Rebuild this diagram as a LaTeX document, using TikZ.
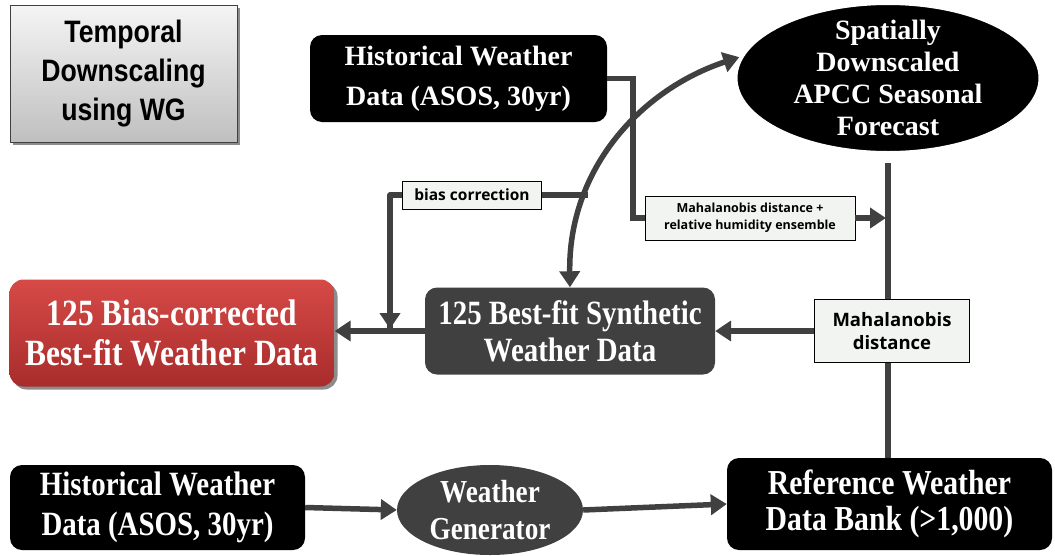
\documentclass[tikz,border=0pt]{standalone}
\usepackage{fontspec}
\setmainfont{Liberation Serif}
\newfontfamily\arialf[FakeStretch=0.86]{Liberation Sans}
\newfontfamily\condf[FakeStretch=0.85]{Liberation Serif}
\newfontfamily\labf{Open Sans}
\usetikzlibrary{arrows.meta,shapes.geometric,shadows,calc}
\definecolor{lg}{HTML}{404040}
\definecolor{labfill}{HTML}{F2F4F2}
\definecolor{redtop}{HTML}{D64A47}
\definecolor{redbot}{HTML}{A82C2B}
\begin{document}
\begin{tikzpicture}[x=1pt,y=-1pt,
  conn/.style={draw=lg,line width=5.5pt},
  arr/.style={conn,-{Triangle[length=16pt,width=20pt]}},
  boxtext/.style={text=white,align=center,inner sep=0pt,
    font=\fontsize{28}{40}\selectfont\bfseries},
  blk/.style={boxtext,fill=black,rounded corners=12pt},
  lab/.style={draw=black,line width=0.8pt,fill=labfill,align=center,inner sep=0pt},
  shad/.style={drop shadow={shadow xshift=3pt,shadow yshift=-3pt,opacity=0.45,fill=black}}
]
\useasboundingbox (0,0) rectangle (1055,555);

% title box
\node[shad,draw=lg,line width=0.8pt,top color=white!96!black,bottom color=black!25,
  minimum width=227pt,minimum height=137pt,align=center,inner sep=0pt,
  font=\arialf\bfseries\fontsize{31}{39}\selectfont] (title) at (123.5,73.5)
  {Temporal\\Downscaling\\using WG};

% top historical
\node[blk,minimum width=297pt,minimum height=87pt] (hist1) at (458.5,78.5)
  {Historical Weather\\Data (ASOS, 30yr)};

% ellipse forecast
\node[boxtext,ellipse,fill=black,draw=white,line width=4pt,
  minimum width=305pt,minimum height=150pt,inner ysep=-12pt,
  font=\fontsize{28}{32}\selectfont\bfseries] (fc) at (888,78)
  {Spatially\\Downscaled\\APCC Seasonal\\Forecast};

% synthetic
\node[boxtext,fill=lg,rounded corners=12pt,minimum width=290pt,minimum height=87pt,
  font=\condf\bfseries\fontsize{34}{37}\selectfont] (syn) at (570,331)
  {125 Best-fit Synthetic\\Weather Data};

% red box
\node[boxtext,shad,rounded corners=14pt,top color=redtop,bottom color=redbot,
  minimum width=325pt,minimum height=107pt,font=\condf\bfseries\fontsize{37}{40}\selectfont] (red) at (172,333)
  {125 Bias-corrected\\Best-fit Weather Data};

% bottom row
\node[blk,minimum width=295pt,minimum height=85pt,font=\condf\bfseries\fontsize{34}{40}\selectfont] (hist2) at (157.5,507.5)
  {Historical Weather\\Data (ASOS, 30yr)};
\node[boxtext,ellipse,fill=lg,minimum width=186pt,minimum height=90pt,inner sep=-8pt,
  font=\condf\bfseries\fontsize{32}{37}\selectfont] (gen) at (490,510)
  {Weather\\Generator};
\node[blk,minimum width=325pt,minimum height=92pt,font=\condf\bfseries\fontsize{35}{36}\selectfont] (ref) at (889.5,504)
  {Reference Weather\\Data Bank (>1,000)};

% helper coordinates
\coordinate (j1) at (633,0);
\coordinate (bj) at (390,195);
\coordinate (bend) at (588,195);

% label boxes
\node[lab,minimum width=210pt,minimum height=44pt,
  font=\labf\bfseries\fontsize{12.5}{17}\selectfont] (mah1) at (750,218)
  {Mahalanobis distance +\\relative humidity ensemble};
\node[lab,minimum width=139pt,minimum height=28pt,
  font=\labf\bfseries\fontsize{15.5}{18}\selectfont] (bias) at (472,195) {bias correction};

% connectors
\draw[conn] (hist1.east) -- (hist1.east -| j1) |- (mah1.west);
\draw[conn] ($(fc.south)+(0,8)$) -- (ref.north -| fc.south);
\draw[arr] (mah1.east) -- ($(mah1.east -| fc.south)+(-2,0)$);

\node[lab,minimum width=155pt,minimum height=63pt,
  font=\labf\bfseries\fontsize{18.5}{23}\selectfont] (mah2) at (892,331)
  {Mahalanobis\\distance};

\draw[arr] (mah2.west) -- (syn.east);
\draw[arr] (syn.west) -- (red.east |- syn.west);
\draw[conn,line join=round] (bias.west) -- (bj) -- ($(bj |- syn.west)+(0,-2)$);
\draw[arr] (bj) -- ($(bj |- syn.west)+(0,-2)$);
\draw[conn] (bias.east) -- (bend);
\draw[conn,{Triangle[length=16pt,width=20pt]}-{Triangle[length=16pt,width=20pt]}]
  (syn.north) .. controls (568,170) and (640,90) .. (fc.172);

\draw[arr] (hist2.east) -- (gen.west);
\draw[arr] (gen.east) -- (ref.west);
\end{tikzpicture}
\end{document}
